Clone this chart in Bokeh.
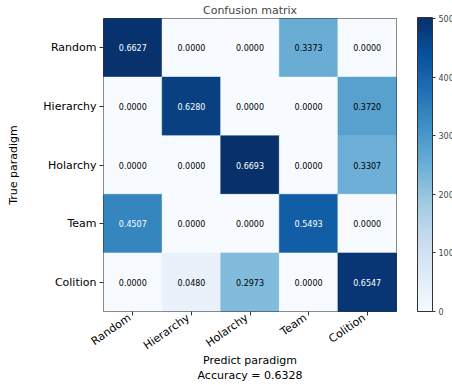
import numpy as np
from bokeh.plotting import figure
from bokeh.models import (ColumnDataSource, FactorRange, LinearColorMapper, ColorBar,
                          FixedTicker, Range1d)
from bokeh.palettes import Blues256
from bokeh.embed import file_html
from bokeh.resources import INLINE

# Paradigm names (rows = true, columns = predicted)
paradigms = ["Random", "Hierarchy", "Holarchy", "Team", "Colition"]

# Row-normalised confusion matrix, one list per true paradigm
row_random = [0.6627, 0.0000, 0.0000, 0.3373, 0.0000]
row_hierarchy = [0.0000, 0.6280, 0.0000, 0.0000, 0.3720]
row_holarchy = [0.0000, 0.0000, 0.6693, 0.0000, 0.3307]
row_team = [0.4507, 0.0000, 0.0000, 0.5493, 0.0000]
row_colition = [0.0000, 0.0480, 0.2973, 0.0000, 0.6547]

# Samples per true paradigm (colour scale uses raw counts)
samples_per_class = 750
colorbar_ticks = [0, 100, 200, 300, 400, 500]

rows = [row_random, row_hierarchy, row_holarchy, row_team, row_colition]
cm = np.array(rows)
counts = np.rint(cm * samples_per_class)
accuracy = float(np.mean(np.diag(cm)))
n = len(paradigms)

true_col, pred_col, frac_col, count_col, label_col, text_color = [], [], [], [], [], []
for i, t in enumerate(paradigms):
    for j in range(n):
        true_col.append(t)
        pred_col.append(j)          # predicted paradigm index (x is numeric)
        frac_col.append(cm[i, j])
        count_col.append(counts[i, j])
        label_col.append(f"{cm[i, j]:.4f}")
        text_color.append("white" if cm[i, j] > 0.4 else "black")

src = ColumnDataSource(dict(true=true_col, pred=pred_col, frac=frac_col,
                            count=count_col, label=label_col, tcolor=text_color))

palette = list(reversed(Blues256))
mapper = LinearColorMapper(palette=palette, low=0, high=float(counts.max()))

FONT = "DejaVu Sans"
W, H = 452, 385
LEFT, RIGHT, TOP, BOTTOM = 103, 56, 18, 73
FRAME_W = W - LEFT - RIGHT
FRAME_H = H - TOP - BOTTOM

p = figure(width=W, height=H, output_backend="svg", toolbar_location=None,
           x_range=Range1d(-0.5, n - 0.5),
           y_range=FactorRange(*reversed(paradigms), range_padding=0),
           min_border_left=LEFT, min_border_right=RIGHT,
           min_border_top=TOP, min_border_bottom=BOTTOM,
           title="Confusion matrix")
p.title.align = "center"
p.title.text_font = FONT
p.title.text_font_size = "11px"
p.title.text_font_style = "normal"
p.title.offset = 0
p.title.standoff = 3

p.rect(x="pred", y="true", width=1, height=1, source=src,
       fill_color={"field": "count", "transform": mapper},
       line_color={"field": "count", "transform": mapper}, line_width=0.5)

p.text(x="pred", y="true", text="label", source=src, text_color="tcolor",
       text_align="center", text_baseline="middle", text_font_size="8px",
       text_font={"value": FONT})

p.grid.visible = False
p.outline_line_color = "#333333"
p.outline_line_width = 1

for ax in (p.xaxis[0], p.yaxis[0]):
    ax.major_label_text_font = FONT
    ax.major_label_text_font_size = "11px"
    ax.major_label_text_color = "black"
    ax.axis_label_text_font = FONT
    ax.axis_label_text_font_size = "11px"
    ax.axis_label_text_font_style = "normal"
    ax.axis_label_text_color = "black"
    ax.axis_line_color = None
    ax.major_tick_line_color = "#333333"
    ax.major_tick_out = 4
    ax.major_tick_in = 0
    ax.minor_tick_line_color = None

p.yaxis.axis_label = "True paradigm"
p.yaxis.major_label_standoff = 3
p.yaxis.axis_label_standoff = 20

# Rotated names sit a few pixels left of each column's tick mark; the tick
# marks themselves are drawn as minor ticks at the column centres.
LABEL_ANGLE = 0.61
LABEL_NUDGE_PX = 3
cell_px = FRAME_W / n
label_pos = [j - LABEL_NUDGE_PX / cell_px for j in range(n)]

xa = p.xaxis[0]
xa.ticker = FixedTicker(ticks=label_pos, minor_ticks=list(range(n)))
xa.major_label_overrides = {pos: name for pos, name in zip(label_pos, paradigms)}
xa.major_label_orientation = LABEL_ANGLE
xa.major_label_standoff = 1
xa.major_tick_line_color = None
xa.minor_tick_line_color = "#333333"
xa.minor_tick_out = 4
xa.minor_tick_in = 0
xa.axis_label = f"Predict paradigm\nAccuracy = {accuracy:.4f}"
xa.axis_label_standoff = -7

cb = ColorBar(color_mapper=mapper, location=(FRAME_W + 21, 0), width=15, height=FRAME_H,
              padding=0, ticker=FixedTicker(ticks=colorbar_ticks),
              major_tick_in=0, major_tick_out=3, major_tick_line_color="#333333",
              bar_line_color="#333333", bar_line_width=1,
              major_label_text_font=FONT, major_label_text_font_size="8px",
              label_standoff=3, background_fill_color=None, border_line_color=None)
p.add_layout(cb, "center")

open("out.html", "w").write(file_html(p, INLINE))
